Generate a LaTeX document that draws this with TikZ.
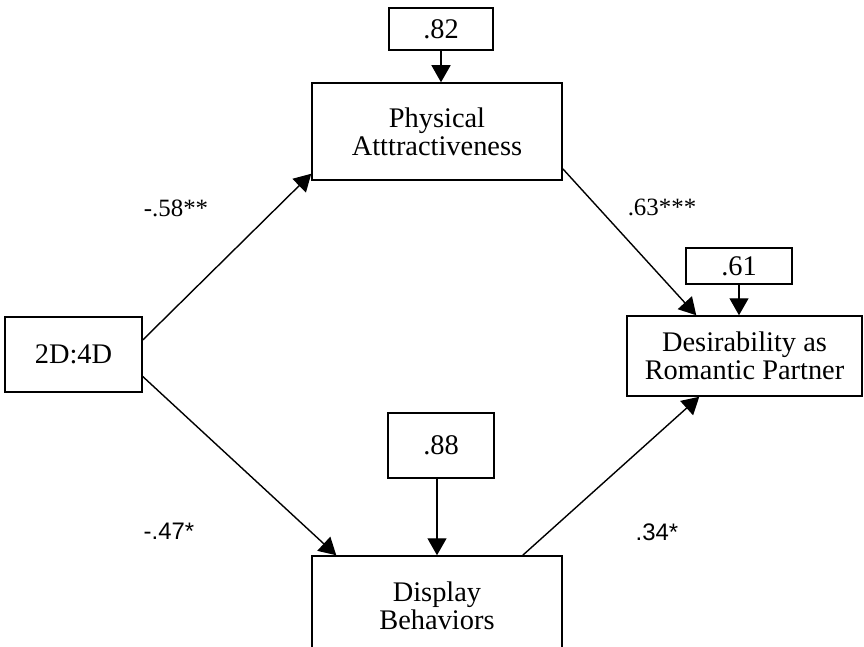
\documentclass[tikz,border=0pt]{standalone}
\usepackage{fontspec}
\setmainfont{Liberation Serif}
\newfontfamily\coefsans{Liberation Sans}
\usepackage{tikz}
\usetikzlibrary{arrows.meta,positioning,calc}

\begin{document}
\begin{tikzpicture}[x=1bp,y=-1bp,
    box/.style={draw, line width=1.5bp, align=center, inner sep=0pt,
        font=\fontsize{28.5}{28}\selectfont},
    coef/.style={inner sep=0pt, font=\fontsize{25}{27}\selectfont},
    link/.style={line width=1.4bp, -{Triangle[length=17bp,width=19bp]}}]
    \useasboundingbox (0,0) rectangle (864,647);
    \clip (0,0) rectangle (864,647);

    % Variables
    \node[box, minimum width=250bp, minimum height=97bp] (phys) at (437,131.5) {Physical\\Atttractiveness};
    \node[box, minimum width=137bp, minimum height=75bp] (digit) at (73.5,354.5) {2D:4D};
    \node[box, minimum width=235bp, minimum height=80bp] (desir) at (744.5,356) {Desirability as\\Romantic Partner};
    \node[box, minimum width=250bp, minimum height=100bp] (disp) at (437,606) {Display\\Behaviors};

    % Residuals
    \node[box, minimum width=104bp, minimum height=42bp] (e82) at (441,29) {.82};
    \node[box, minimum width=106bp, minimum height=36bp] (e61) at (739,266) {.61};
    \node[box, minimum width=106bp, minimum height=65bp] (e88) at (441,445.5) {.88};

    % Residual arrows
    \draw[link] (e82.south) -- (e82.south |- phys.north);
    \draw[link] (e61.south) -- (e61.south |- desir.north);
    \draw[link] ([xshift=-4bp]e88.south) -- ([xshift=-4bp]e88.south |- disp.north);

    % Paths
    \draw[link] ([yshift=14.5bp]digit.east) -- ([yshift=7bp]phys.south west);
    \draw[link] ([yshift=-22bp]digit.east) -- ([xshift=25bp]disp.north west);
    \draw[link] ([yshift=12bp]phys.south east) -- ([xshift=70bp]desir.north west);
    \draw[link] ([xshift=-40bp]disp.north east) -- ([xshift=73bp]desir.south west);

    % Path coefficients
    \node[coef] (c58) at (176,208) {-.58**};
    \node[coef] (c63) at (662,207) {.63***};
    \node[coef, font=\coefsans\fontsize{24}{26}\selectfont] (c47) at (169,531) {-.47*};
    \node[coef, font=\coefsans\fontsize{24}{26}\selectfont] (c34) at (657,532) {.34*};
\end{tikzpicture}
\end{document}
